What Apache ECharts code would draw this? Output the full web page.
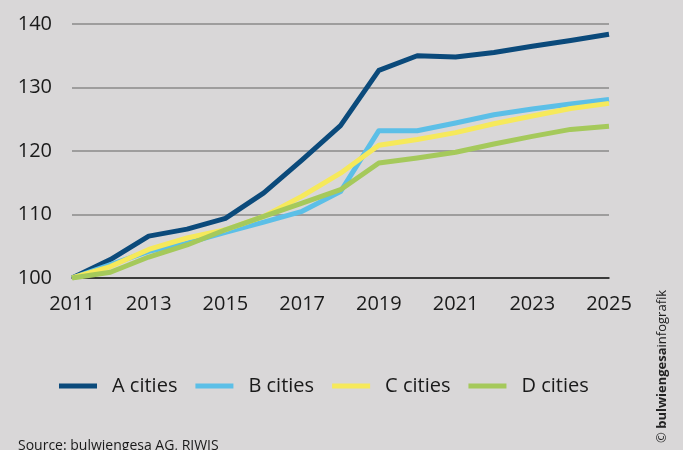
<!DOCTYPE html>
<html>
<head>
<meta charset="utf-8">
<script src="https://cdn.jsdelivr.net/npm/echarts@6/dist/echarts.min.js"></script>
<style>
  html, body { margin: 0; padding: 0; background: #d9d7d8; }
  #chart { width: 683px; height: 450px; }
</style>
</head>
<body>
<div id="chart"></div>
<script>
// years on the x axis
const years = ['2011', '2012', '2013', '2014', '2015', '2016', '2017', '2018',
  '2019', '2020', '2021', '2022', '2023', '2024', '2025'];

// index values (2011 = 100)
const aCities = [100, 102.9, 106.6, 107.7, 109.4, 113.4, 118.6, 124.0, 132.7, 135.0, 134.8, 135.5, 136.5, 137.4, 138.4];
const bCities = [100, 102.1, 104.2, 105.5, 107.2, 108.8, 110.5, 113.6, 123.2, 123.2, 124.4, 125.7, 126.6, 127.4, 128.1];
const cCities = [100, 101.8, 104.5, 106.3, 107.6, 109.7, 112.9, 116.5, 120.9, 121.8, 122.9, 124.3, 125.5, 126.7, 127.5];
const dCities = [100, 100.9, 103.3, 105.2, 107.6, 109.7, 111.8, 113.9, 118.1, 118.9, 119.8, 121.1, 122.3, 123.4, 123.9];

const seriesNames = ['A cities', 'B cities', 'C cities', 'D cities'];
const colors = ['#0b4a7b', '#5cbfe7', '#f6e95b', '#a5c95b'];

const font = '"Open Sans", "Noto Sans", sans-serif';

let chart = echarts.init(document.getElementById('chart'));

function makeLine(name, data, color) {
  return {
    name: name,
    type: 'line',
    data: data,
    symbol: 'none',
    color: color,
    lineStyle: { width: 5, color: color, cap: 'butt', join: 'round' },
  };
}

chart.setOption({
  backgroundColor: '#d9d7d8',
  animation: false,
  textStyle: { fontFamily: font },
  grid: {
    left: 72,
    right: 74,
    top: 24,
    bottom: 172,
    containLabel: false,
  },
  xAxis: {
    type: 'category',
    data: years,
    boundaryGap: false,
    axisLine: { show: true, lineStyle: { color: '#1a1a1a', width: 1.5 } },
    axisTick: { show: false },
    axisLabel: {
      interval: 1,
      color: '#1a1a1a',
      fontSize: 20,
      fontFamily: font,
      margin: 16,
    },
  },
  yAxis: {
    type: 'value',
    min: 100,
    max: 140,
    interval: 10,
    axisLine: { show: false },
    axisTick: { show: false },
    splitLine: { lineStyle: { color: '#8a8a8a', width: 1.5 } },
    axisLabel: {
      color: '#1a1a1a',
      fontSize: 20,
      fontFamily: font,
      margin: 20,
    },
  },
  legend: {
    data: seriesNames,
    left: 54,
    top: 371,
    icon: 'rect',
    itemWidth: 38,
    itemHeight: 5,
    itemGap: 18,
    textStyle: {
      color: '#1a1a1a',
      fontSize: 20,
      fontFamily: font,
      padding: [0, 0, 0, 10],
    },
  },
  graphic: [
    {
      type: 'text',
      left: 18,
      top: 439,
      style: {
        text: 'Source: bulwiengesa AG, RIWIS',
        fill: '#1a1a1a',
        font: '14px ' + font,
      },
    },
    {
      type: 'text',
      x: 656,
      y: 443,
      rotation: Math.PI / 2,
      style: {
        text: '{c|© }{b|bulwiengesa}{n|infografik}',
        rich: {
          c: { fontSize: 13, fill: '#222', fontFamily: font },
          b: { fontSize: 13, fontWeight: 'bold', fill: '#222', fontFamily: font },
          n: { fontSize: 13, fill: '#222', fontFamily: font },
        },
      },
    },
  ],
  series: [
    makeLine(seriesNames[0], aCities, colors[0]),
    makeLine(seriesNames[1], bCities, colors[1]),
    makeLine(seriesNames[2], cCities, colors[2]),
    makeLine(seriesNames[3], dCities, colors[3]),
  ],
});
</script>
</body>
</html>
